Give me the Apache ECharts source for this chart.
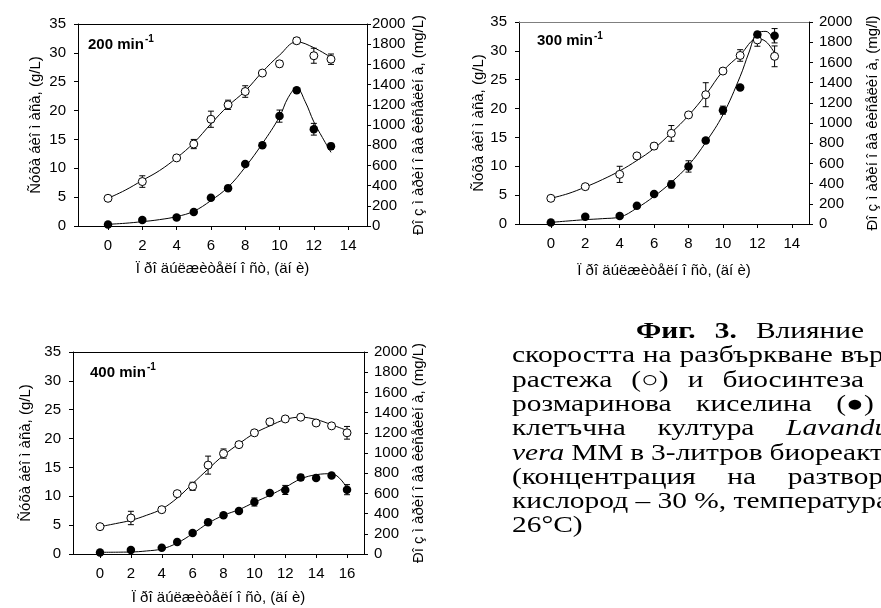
<!DOCTYPE html>
<html>
<head>
<meta charset="utf-8">
<script src="https://cdn.jsdelivr.net/npm/echarts@6/dist/echarts.min.js"></script>
<style>
  html, body { margin: 0; padding: 0; background: #fff; }
  #chart { width: 881px; height: 608px; }
</style>
</head>
<body>
<div id="chart"></div>
<script>
// ---- 200 min-1 ----
const days200 = [0, 2, 4, 5, 6, 7, 8, 9, 10, 11, 12, 13];
const biomass200 = [4.8, 7.7, 11.8, 14.2, 18.5, 21.0, 23.3, 26.5, 28.1, 32.1, 29.5, 28.9];
const biomassErr200 = [0.2, 1.0, 0.3, 0.8, 1.4, 0.8, 1.0, 0.3, 0.5, 0.5, 1.3, 0.9];
const rosm200 = [15, 60, 83, 139, 279, 375, 614, 800, 1088, 1343, 958, 789];
const rosmErr200 = [10, 20, 20, 20, 20, 20, 20, 20, 60, 20, 58, 30];
const fitDays200 = [0, 1, 2, 3, 4, 5, 6, 7, 8, 9, 10, 11, 12, 13];
const biomassFit200 = [4.8, 6.2, 7.9, 9.6, 11.8, 14.4, 17.7, 20.8, 23.4, 26.7, 29.6, 31.9, 30.9, 29.2];
const rosmFitDays200 = [0, 1, 2, 3, 4, 5, 6, 7, 8, 9, 10, 10.5, 11, 11.5, 12, 12.5, 13];
const rosmFit200 = [17, 27, 43, 63, 93, 146, 252, 385, 583, 816, 1082, 1270, 1365, 1230, 1031, 876, 729];

// ---- 300 min-1 ----
const days300 = [0, 2, 4, 5, 6, 7, 8, 9, 10, 11, 12, 13];
const biomass300 = [4.45, 6.47, 8.6, 11.8, 13.5, 15.7, 18.9, 22.4, 26.5, 29.2, 31.9, 29.05];
const biomassErr300 = [0.2, 0.3, 1.4, 0.3, 0.5, 1.36, 0.4, 2.08, 0.3, 1.0, 1.1, 1.8];
const rosm300 = [15, 72, 79, 181, 297, 392, 570, 826, 1127, 1352, 1877, 1864];
const rosmErr300 = [10, 20, 20, 20, 20, 35, 56, 20, 40, 20, 20, 71];
const fitDays300 = [0, 1, 2, 3, 4, 5, 6, 7, 8, 9, 10, 11, 12, 12.5, 13];
const biomassFit300 = [4.45, 5.26, 6.4, 7.7, 9.2, 11.0, 13.1, 15.8, 18.8, 22.4, 26.5, 29.3, 32.1, 31.6, 29.6];
const rosmFitDays300 = [0, 1, 2, 3, 4, 5, 6, 7, 8, 9, 10, 11, 11.5, 12, 12.5, 13];
const rosmFit300 = [16, 30, 43, 53, 69, 158, 274, 413, 581, 809, 1082, 1461, 1693, 1891, 1907, 1798];

// ---- 400 min-1 ----
const days400 = [0, 2, 4, 5, 6, 7, 8, 9, 10, 11, 12, 13, 14, 15, 16];
const biomass400 = [4.74, 6.24, 7.68, 10.46, 11.73, 15.4, 17.4, 18.95, 21.0, 22.9, 23.4, 23.7, 22.7, 22.2, 21.0];
const biomassErr400 = [0.2, 1.16, 0.3, 0.3, 0.7, 1.56, 0.8, 0.5, 0.3, 0.5, 0.3, 0.3, 0.3, 0.3, 1.1];
const rosm400 = [16, 40, 63, 119, 208, 314, 383, 426, 515, 604, 634, 758, 752, 778, 637];
const rosmErr400 = [10, 10, 10, 10, 10, 20, 20, 20, 40, 20, 45, 30, 20, 20, 50];
const fitDays400 = [0, 1, 2, 3, 4, 5, 6, 7, 8, 9, 10, 11, 12, 13, 14, 15, 16];
const biomassFit400 = [4.74, 5.26, 5.83, 6.7, 7.8, 9.7, 12.2, 14.7, 17.1, 19.1, 20.9, 22.2, 23.3, 23.7, 23.3, 22.4, 21.4];
const rosmFitDays400 = [0, 2, 3, 4, 5, 6, 7, 8, 9, 10, 11, 12, 13, 14, 15, 16];
const rosmFit400 = [17, 20, 30, 50, 109, 201, 304, 383, 439, 512, 581, 660, 743, 785, 795, 653];

// ---- tick labels ----
const xTicks14 = [0, 2, 4, 6, 8, 10, 12, 14];
const xTicks16 = [0, 2, 4, 6, 8, 10, 12, 14, 16];

// ---- axis titles and panel labels ----
const xTitle = 'Ï ðî äúëæèòåëí î ñò, (äí è)';
const yLeftTitle = 'Ñóõà áèî ì àñà, (g/L)';
const yRightTitles = ['Ðî ç ì àðèí î âà êèñåëèí à, (mg/L)', 'Ðî ç ì àðèí î âà êèñåëèí à, (mg/l)', 'Ðî ç ì àðèí î âà êèñåëèí à, (mg/L)'];
const panelNames = ['200 min', '300 min', '400 min'];

// ---- figure caption: words of each line ('b' bold, 'i' italic) ----
const captionLines = [
  [['Фиг.', 'b'], ['3.', 'b'], ['Влияние', ''], ['на', '']],
  [['скоростта', ''], ['на', ''], ['разбъркване', ''], ['върху', '']],
  [['растежа', ''], ['(○)', ''], ['и', ''], ['биосинтеза', ''], ['на', '']],
  [['розмаринова', ''], ['киселина', ''], ['(●)', ''], ['в', '']],
  [['клетъчна', ''], ['култура', ''], ['Lavandula', 'i']],
  [['vera', 'i'], ['MM', ''], ['в', ''], ['3-литров', ''], ['биореактор', '']],
  [['(концентрация', ''], ['на', ''], ['разтворен', '']],
  [['кислород', ''], ['–', ''], ['30', ''], ['%,', ''], ['температура', '']],
  [['26°C)', '']]
];
// lines stretched to the full measure; the others keep natural word spacing
const captionJustified = [true, true, true, true, true, true, true, false, false];

const SANS = 'Liberation Sans, Arial, sans-serif';
const SERIF = 'Liberation Serif, Times New Roman, serif';
const FS = 15;

// panel layout
const panels = [
  { left: 78, top: 24, width: 289, height: 202, xmin: -1.75, xmax: 15.1, ticks: xTicks14, topColor: '#000',
    leftGap: 35, rightGap: 44, xGap: 35, rightMargin: 5, label: [88, 44.5] },
  { left: 519, top: 22, width: 290, height: 202, xmin: -1.85, xmax: 15.0, ticks: xTicks14, topColor: '#7f7f7f',
    leftGap: 33, rightGap: 56, xGap: 39, rightMargin: 10, label: [537, 41] },
  { left: 73, top: 352, width: 291, height: 202, xmin: -1.75, xmax: 17.1, ticks: xTicks16, topColor: '#000',
    leftGap: 40, rightGap: 46, xGap: 36, rightMargin: 10, label: [90, 372.5] }
];

const datasets = [
  { days: days200, bio: biomass200, bioErr: biomassErr200, ra: rosm200, raErr: rosmErr200,
    fitDays: fitDays200, bioFit: biomassFit200, raFitDays: rosmFitDays200, raFit: rosmFit200 },
  { days: days300, bio: biomass300, bioErr: biomassErr300, ra: rosm300, raErr: rosmErr300,
    fitDays: fitDays300, bioFit: biomassFit300, raFitDays: rosmFitDays300, raFit: rosmFit300 },
  { days: days400, bio: biomass400, bioErr: biomassErr400, ra: rosm400, raErr: rosmErr400,
    fitDays: fitDays400, bioFit: biomassFit400, raFitDays: rosmFitDays400, raFit: rosmFit400 }
];

const labelStyle = { color: '#000', fontFamily: SANS, fontSize: FS };
const black = { color: '#000', width: 1 };

const grids = [], xAxes = [], yAxes = [], series = [];

function zip(xs, ys) { return xs.map((x, i) => [x, ys[i]]); }

function errorBars(xi, yi, xs, ys, errs) {
  return {
    type: 'custom', xAxisIndex: xi, yAxisIndex: yi, z: 3, silent: true,
    data: xs.map((x, i) => [x, ys[i] - errs[i], ys[i] + errs[i]]),
    renderItem(params, api) {
      const lo = api.coord([api.value(0), api.value(1)]);
      const hi = api.coord([api.value(0), api.value(2)]);
      const w = 3;
      const st = { stroke: '#000', lineWidth: 1 };
      return { type: 'group', children: [
        { type: 'line', shape: { x1: lo[0], y1: lo[1], x2: hi[0], y2: hi[1] }, style: st },
        { type: 'line', shape: { x1: lo[0] - w, y1: lo[1], x2: lo[0] + w, y2: lo[1] }, style: st },
        { type: 'line', shape: { x1: hi[0] - w, y1: hi[1], x2: hi[0] + w, y2: hi[1] }, style: st }
      ] };
    }
  };
}

panels.forEach((p, g) => {
  grids.push({ left: p.left, top: p.top, width: p.width, height: p.height, containLabel: false });
  const xb = 2 * g, yl = 2 * g, yr = 2 * g + 1;
  xAxes.push({
    type: 'value', gridIndex: g, position: 'bottom', min: p.xmin, max: p.xmax,
    name: xTitle, nameLocation: 'middle', nameGap: p.xGap,
    nameTextStyle: { color: '#000', fontFamily: SANS, fontSize: FS },
    axisLine: { show: true, onZero: false, lineStyle: black },
    axisTick: { show: true, inside: false, length: 4, lineStyle: black, customValues: p.ticks },
    axisLabel: Object.assign({ margin: 12, customValues: p.ticks }, labelStyle),
    splitLine: { show: false }
  });
  xAxes.push({
    type: 'value', gridIndex: g, position: 'top', min: p.xmin, max: p.xmax,
    axisLine: { show: true, onZero: false, lineStyle: { color: p.topColor, width: 1 } },
    axisTick: { show: false }, axisLabel: { show: false }, splitLine: { show: false }
  });
  yAxes.push({
    type: 'value', gridIndex: g, position: 'left', min: 0, max: 35, interval: 5,
    name: yLeftTitle, nameLocation: 'middle', nameGap: p.leftGap, nameRotate: 90,
    nameTextStyle: { color: '#000', fontFamily: SANS, fontSize: FS },
    axisLine: { show: true, onZero: false, lineStyle: black },
    axisTick: { show: true, inside: false, length: 4, lineStyle: black },
    axisLabel: Object.assign({ margin: 12 }, labelStyle),
    splitLine: { show: false }
  });
  yAxes.push({
    type: 'value', gridIndex: g, position: 'right', min: 0, max: 2000, interval: 200,
    name: yRightTitles[g], nameLocation: 'middle', nameGap: p.rightGap, nameRotate: 90,
    nameTextStyle: { color: '#000', fontFamily: SANS, fontSize: FS },
    axisLine: { show: true, onZero: false, lineStyle: black },
    axisTick: { show: true, inside: false, length: 4, lineStyle: black },
    axisLabel: Object.assign({ margin: p.rightMargin, formatter: v => String(v) }, labelStyle),
    splitLine: { show: false }
  });

  const d = datasets[g];
  // fitted curves
  series.push({
    type: 'line', xAxisIndex: xb, yAxisIndex: yl, data: zip(d.fitDays, d.bioFit),
    smooth: 0.4, showSymbol: false, lineStyle: { color: '#000', width: 1 }, z: 2, silent: true
  });
  series.push({
    type: 'line', xAxisIndex: xb, yAxisIndex: yr, data: zip(d.raFitDays, d.raFit),
    smooth: 0.4, showSymbol: false, lineStyle: { color: '#000', width: 1 }, z: 2, silent: true
  });
  // error bars
  series.push(errorBars(xb, yl, d.days, d.bio, d.bioErr));
  series.push(errorBars(xb, yr, d.days, d.ra, d.raErr));
  // measured points: open = dry biomass, filled = rosmarinic acid
  series.push({
    type: 'scatter', xAxisIndex: xb, yAxisIndex: yl, data: zip(d.days, d.bio),
    symbol: 'circle', symbolSize: 8, z: 4,
    itemStyle: { color: '#fff', borderColor: '#000', borderWidth: 1, opacity: 1 }
  });
  series.push({
    type: 'scatter', xAxisIndex: xb, yAxisIndex: yr, data: zip(d.days, d.ra),
    symbol: 'circle', symbolSize: 8.5, z: 4,
    itemStyle: { color: '#000', borderColor: '#000', borderWidth: 0, opacity: 1 }
  });
});

// panel labels with superscript
const graphics = [];
panels.forEach((p, g) => {
  graphics.push({
    type: 'text', x: p.label[0], y: p.label[1],
    style: { text: panelNames[g], font: 'bold 15px ' + SANS, fill: '#000', verticalAlign: 'middle' }
  });
  graphics.push({
    type: 'text', x: p.label[0] + 57, y: p.label[1] - 5,
    style: { text: '-1', font: 'bold 10px ' + SANS, fill: '#000', verticalAlign: 'middle' }
  });
});

// caption: justified paragraph, first line indented
const CAP = { left: 512, indent: 636, right: 912, top: 332, step: 24.3, size: 23, sx: 1.28 };
const ctx = document.createElement('canvas').getContext('2d');
function capFont(st) {
  return (st === 'i' ? 'italic ' : '') + (st === 'b' ? 'bold ' : '') + CAP.size + 'px ' + SERIF;
}
function capWidth(t, st) { ctx.font = capFont(st); return ctx.measureText(t).width * CAP.sx; }

captionLines.forEach((words, i) => {
  const x0 = i === 0 ? CAP.indent : CAP.left;
  const widths = words.map(([t, st]) => capWidth(t, st));
  let gap = capWidth(' ', '');
  if (captionJustified[i] && words.length > 1) {
    const total = widths.reduce((a, b) => a + b, 0);
    gap = (CAP.right - x0 - total) / (words.length - 1);
  }
  let x = x0;
  words.forEach(([t, st], k) => {
    graphics.push({
      type: 'text', x: x, y: CAP.top + i * CAP.step, scaleX: CAP.sx,
      style: { text: t, font: capFont(st), fill: '#000', verticalAlign: 'middle' }
    });
    x += widths[k] + gap;
  });
});

const chart = echarts.init(document.getElementById('chart'), null, { renderer: 'canvas' });
chart.setOption({
  animation: false,
  backgroundColor: '#fff',
  grid: grids,
  xAxis: xAxes,
  yAxis: yAxes,
  series: series,
  graphic: graphics
});
</script>
</body>
</html>
